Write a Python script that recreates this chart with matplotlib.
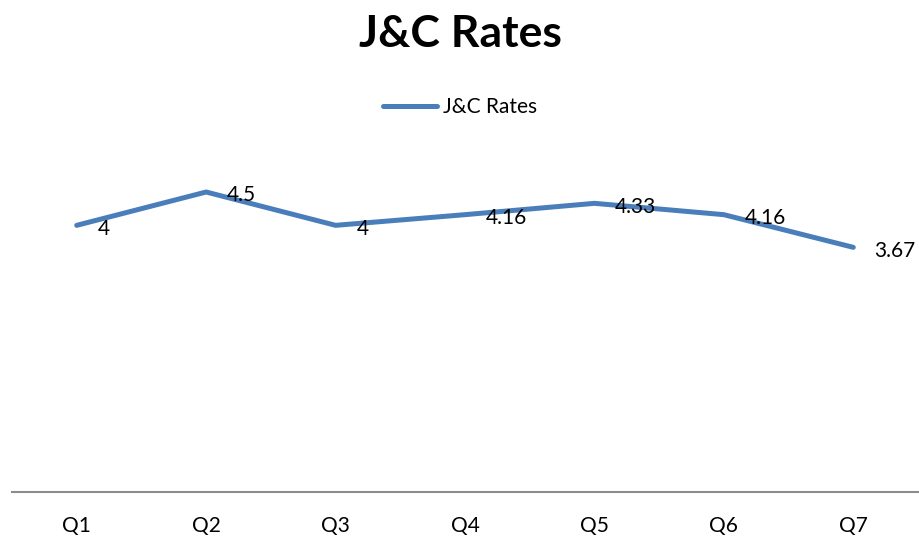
import matplotlib.pyplot as plt

# chart data
quarters = ['Q1', 'Q2', 'Q3', 'Q4', 'Q5', 'Q6', 'Q7']
rates = [4, 4.5, 4, 4.16, 4.33, 4.16, 3.67]
rate_labels = ['4', '4.5', '4', '4.16', '4.33', '4.16', '3.67']

plt.rcParams['font.family'] = ['Lato', 'DejaVu Sans']

fig = plt.figure(figsize=(9.2, 5.38), dpi=100)
ax = fig.add_axes([12 / 920, 46 / 538, 906 / 920, 400 / 538])

x = list(range(len(quarters)))
ax.plot(x, rates, color='#4A7EBB', linewidth=3.6, solid_capstyle='round',
        solid_joinstyle='round', label='J&C Rates')

# data labels to the right of each point
for xi, yi, lab in zip(x, rates, rate_labels):
    ax.annotate(lab, (xi, yi), xytext=(15, -2.5), textcoords='offset points',
                ha='left', va='center', fontsize=15, color='black')

ax.set_xlim(-0.5, len(quarters) - 0.5)
ax.set_ylim(0, 6)
ax.set_xticks(x)
ax.set_xticklabels(quarters, fontsize=15)
ax.tick_params(axis='x', length=0, pad=17)
ax.set_yticks([])
for side in ['top', 'left', 'right']:
    ax.spines[side].set_visible(False)
ax.spines['bottom'].set_color('#8C8C8C')
ax.spines['bottom'].set_linewidth(1.5)

fig.text(0.5, 1 - 34 / 538, 'J&C Rates', ha='center', va='center',
         fontsize=32, fontweight='bold')
fig.legend(loc='center', bbox_to_anchor=(0.5, 1 - 107 / 538), frameon=False,
           fontsize=15, handlelength=2.6, handletextpad=0.25)

fig.savefig('out.png', dpi=100)
